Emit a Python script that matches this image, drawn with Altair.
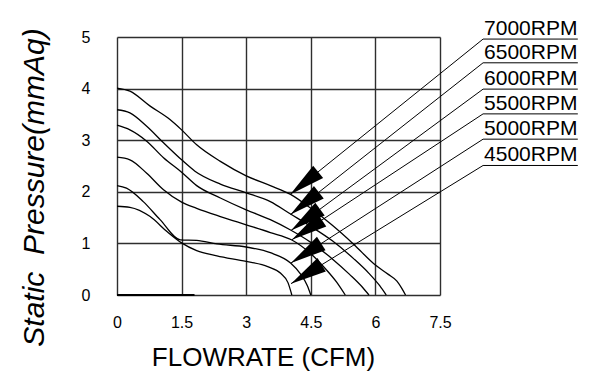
import math
import altair as alt
import pandas as pd

# ---- data ----
rpm_labels = ["7000RPM", "6500RPM", "6000RPM", "5500RPM", "5000RPM", "4500RPM"]

flow_7000 = [0, 0.3, 0.77, 1.23, 1.5, 1.85, 2.4, 3.0, 3.56, 4.03, 4.5, 5.0, 5.5, 6.0, 6.3, 6.5, 6.62, 6.7]
pres_7000 = [4.01, 3.95, 3.66, 3.40, 3.20, 2.91, 2.59, 2.31, 2.12, 1.95, 1.68, 1.35, 0.98, 0.58, 0.40, 0.27, 0.12, 0.0]

flow_6500 = [0, 0.3, 0.69, 1.08, 1.5, 1.81, 2.4, 3.0, 3.56, 4.03, 4.5, 5.0, 5.5, 5.85, 6.1, 6.25]
pres_6500 = [3.59, 3.53, 3.27, 2.95, 2.62, 2.40, 2.15, 1.98, 1.81, 1.57, 1.33, 1.05, 0.70, 0.42, 0.18, 0.0]

flow_6000 = [0, 0.3, 0.69, 1.08, 1.5, 1.85, 2.4, 3.0, 3.56, 4.03, 4.5, 5.0, 5.4, 5.7, 5.85]
pres_6000 = [3.29, 3.20, 2.98, 2.66, 2.38, 2.12, 1.88, 1.65, 1.46, 1.26, 1.02, 0.70, 0.40, 0.15, 0.0]

flow_5500 = [0, 0.3, 0.69, 1.08, 1.5, 1.85, 2.4, 3.0, 3.56, 4.05, 4.5, 4.85, 5.1, 5.3]
pres_5500 = [2.67, 2.62, 2.36, 2.04, 1.80, 1.68, 1.52, 1.36, 1.21, 1.07, 0.80, 0.50, 0.25, 0.0]

flow_5000 = [0, 0.22, 0.61, 1.0, 1.47, 1.85, 2.32, 3.0, 3.56, 4.03, 4.25, 4.42, 4.5]
pres_5000 = [2.12, 2.07, 1.81, 1.46, 1.07, 1.06, 0.99, 0.93, 0.82, 0.62, 0.42, 0.18, 0.0]

flow_4500 = [0, 0.3, 0.77, 1.16, 1.5, 1.85, 2.32, 3.0, 3.5, 3.8, 3.97, 4.06]
pres_4500 = [1.72, 1.70, 1.52, 1.23, 1.01, 0.86, 0.76, 0.65, 0.55, 0.42, 0.24, 0.0]

# arrow tips (pointing at each curve) and label leader levels
tip_flow = [4.02, 4.03, 4.04, 4.06, 4.04, 4.04]
tip_pres = [1.95, 1.56, 1.25, 1.07, 0.62, 0.22]
label_pres = [4.96, 4.50, 3.99, 3.51, 3.02, 2.51]
label_flow_start = 8.5
label_flow_end = 10.7

base_flow = [0, 1.8]

x_ticks = [0, 1.5, 3, 4.5, 6, 7.5]
y_ticks = [0, 1, 2, 3, 4, 5]

# ---- build tables ----
W, H = 323, 258
X_MAX, Y_MAX = 7.5, 5

series = [
    (rpm_labels[0], flow_7000, pres_7000),
    (rpm_labels[1], flow_6500, pres_6500),
    (rpm_labels[2], flow_6000, pres_6000),
    (rpm_labels[3], flow_5500, pres_5500),
    (rpm_labels[4], flow_5000, pres_5000),
    (rpm_labels[5], flow_4500, pres_4500),
]
rows = []
for lab, fx, py in series:
    for i, (a, b) in enumerate(zip(fx, py)):
        rows.append({"rpm": lab, "i": i, "flow": a, "pressure": b})
curves = pd.DataFrame(rows)

ann_rows = []
for lab, tx, ty, ly in zip(rpm_labels, tip_flow, tip_pres, label_pres):
    dxp = (label_flow_start - tx) * W / X_MAX
    dyp = -(ly - ty) * H / Y_MAX
    ang = math.degrees(math.atan2(dxp, -dyp))
    ann_rows.append({"rpm": lab, "flow": tx, "pressure": ty,
                     "flow2": label_flow_start, "pressure2": ly,
                     "flow3": label_flow_end, "ang": ang})
ann = pd.DataFrame(ann_rows)

base = pd.DataFrame({"flow": [base_flow[0]], "flow2": [base_flow[1]], "pressure": [0]})

FONT = "Liberation Sans"
xs = alt.Scale(domain=[0, X_MAX], nice=False, zero=False)
ys = alt.Scale(domain=[0, Y_MAX], nice=False, zero=False)

x_axis = alt.Axis(
    values=x_ticks, format=".3~g", title="FLOWRATE (CFM)",
    titleX=146, titleY=70, titleBaseline="alphabetic", titleAlign="center",
    titleFontSize=26, titleFontWeight="normal", titleFont=FONT, titleColor="black",
    labelFontSize=16, labelFont=FONT, labelColor="black", labelPadding=19,
    ticks=False, domain=False, grid=True, gridColor="#2e2e2e", gridWidth=1.4,
    labelFlush=False)
y_axis = alt.Axis(
    values=y_ticks, format=".3~g", title="Static\u00a0\u00a0Pressure(mmAq)",
    titleX=-74, titleY=150, titleAngle=270, titleBaseline="alphabetic", titleAlign="center",
    titleFontSize=30, titleFontStyle="italic", titleFontWeight="normal", titleFont=FONT,
    titleColor="black",
    labelFontSize=16, labelFont=FONT, labelColor="black", labelPadding=27,
    ticks=False, domain=False, grid=True, gridColor="#2e2e2e", gridWidth=1.4,
    labelFlush=False)

lines = alt.Chart(curves).mark_line(
    interpolate="monotone", color="black", strokeWidth=1.3
).encode(
    x=alt.X("flow:Q", scale=xs, axis=x_axis),
    y=alt.Y("pressure:Q", scale=ys, axis=y_axis),
    detail="rpm:N",
    order="i:Q",
)

baseline_seg = alt.Chart(base).mark_rule(color="black", strokeWidth=2.2, clip=False).encode(
    x=alt.X("flow:Q", scale=xs, axis=x_axis), x2="flow2:Q",
    y=alt.Y("pressure:Q", scale=ys, axis=y_axis),
)

leaders = alt.Chart(ann).mark_rule(color="black", strokeWidth=1, clip=False).encode(
    x=alt.X("flow:Q", scale=xs, axis=x_axis), x2="flow2:Q",
    y=alt.Y("pressure:Q", scale=ys, axis=y_axis), y2="pressure2:Q",
)

underlines = alt.Chart(ann).mark_rule(color="black", strokeWidth=1, clip=False).encode(
    x=alt.X("flow2:Q", scale=xs, axis=x_axis), x2="flow3:Q",
    y=alt.Y("pressure2:Q", scale=ys, axis=y_axis),
)

arrows = alt.Chart(ann).mark_point(
    shape="M0,0 L0.22,-1 L-0.22,-1 Z", filled=True, color="black",
    opacity=1, size=5184, strokeWidth=0, clip=False
).encode(
    x=alt.X("flow:Q", scale=xs, axis=x_axis),
    y=alt.Y("pressure:Q", scale=ys, axis=y_axis),
    angle=alt.Angle("ang:Q", scale=None),
)

labels = alt.Chart(ann).mark_text(
    align="left", baseline="alphabetic", dy=-4, dx=1, fontSize=21, font=FONT,
    color="black", clip=False
).encode(
    x=alt.X("flow2:Q", scale=xs, axis=x_axis),
    y=alt.Y("pressure2:Q", scale=ys, axis=y_axis),
    text="rpm:N",
)

chart = alt.layer(lines, baseline_seg, leaders, underlines, arrows, labels).properties(
    width=W, height=H,
    padding={"left": 109, "top": 29, "right": 140, "bottom": 85},
    autosize=alt.AutoSizeParams(type="none"),
    background="white",
).configure_view(stroke=None)

chart.save("out.html", embed_options={"renderer": "svg", "actions": False})
